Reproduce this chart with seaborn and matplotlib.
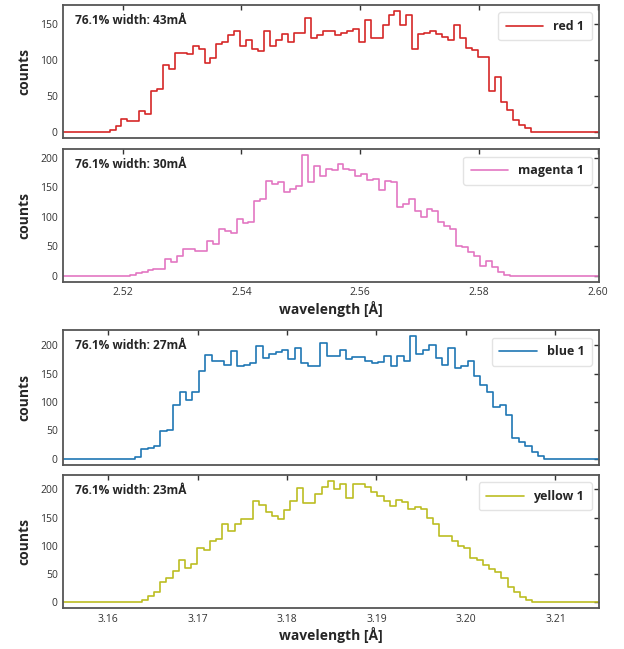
import numpy as np
import pandas as pd
import matplotlib
matplotlib.use("Agg")
import matplotlib.pyplot as plt
from matplotlib.ticker import FormatStrFormatter, MultipleLocator
import seaborn as sns

# counts per bin (bins in Angstrom)
red_counts = [2, 8, 18, 15, 15, 29, 25, 57, 60, 93, 87, 110, 110, 108, 120, 115, 95, 102,
              122, 125, 135, 140, 120, 128, 115, 112, 140, 120, 128, 136, 125, 138, 138, 158,
              130, 135, 140, 140, 135, 137, 140, 143, 125, 155, 130, 131, 148, 162, 168, 148,
              162, 115, 136, 138, 140, 136, 132, 128, 148, 130, 117, 114, 104, 104, 57, 76,
              41, 30, 16, 10, 5]
magenta_counts = [1, 4, 7, 10, 11, 12, 28, 23, 34, 45, 46, 42, 42, 59, 54, 79, 76, 72, 96, 89,
                  91, 127, 130, 161, 156, 159, 142, 147, 152, 205, 159, 187, 170, 181, 180, 189,
                  181, 180, 170, 173, 162, 165, 145, 161, 160, 116, 122, 130, 110, 99, 113, 110,
                  91, 85, 79, 51, 48, 40, 34, 17, 25, 14, 6, 2]
blue_counts = [3, 18, 20, 22, 49, 51, 95, 118, 104, 118, 154, 182, 173, 172, 166, 190, 163, 166,
               169, 198, 178, 184, 188, 192, 175, 195, 169, 163, 163, 204, 181, 181, 192, 175,
               180, 180, 172, 169, 170, 181, 163, 181, 172, 216, 185, 192, 200, 178, 166, 195,
               160, 163, 173, 145, 130, 118, 92, 95, 77, 36, 30, 22, 12, 5]
yellow_counts = [4, 11, 18, 36, 43, 55, 75, 61, 67, 96, 93, 108, 111, 138, 126, 138, 147, 147,
                 179, 173, 159, 153, 147, 164, 179, 203, 176, 176, 192, 205, 215, 200, 210, 185,
                 210, 210, 205, 195, 188, 180, 171, 182, 177, 165, 169, 166, 150, 138, 117, 117,
                 109, 100, 95, 78, 75, 66, 58, 54, 42, 27, 17, 8, 4]

red_start, red_bin = 2.5178, 0.001
magenta_start, magenta_bin = 2.5212, 0.001
blue_start, blue_bin = 3.1630, 0.000715
yellow_start, yellow_bin = 3.16376, 0.000693

labels = ["red 1", "magenta 1", "blue 1", "yellow 1"]
widths = ["43", "30", "27", "23"]
colors = ["#d62728", "#e377c2", "#1f77b4", "#bcbd22"]

xlim_top = (2.51, 2.6003)
xlim_bottom = (3.155, 3.2149)

sns.set_theme(style="white")
plt.rcParams["font.family"] = ["Open Sans", "DejaVu Sans"]


def step_frame(counts, start, width, xlim):
    edges = start + width * np.arange(len(counts) + 1)
    x = np.concatenate([[xlim[0]], edges, [xlim[1]]])
    y = np.concatenate([[0], counts, [0, 0]])
    return pd.DataFrame({"wavelength": x, "counts": y})


fig = plt.figure(figsize=(6.24, 6.49), dpi=100)
positions = [
    [0.1014, 0.7878, 0.859, 0.2045],
    [0.1014, 0.5659, 0.859, 0.2045],
    [0.1014, 0.2835, 0.859, 0.2080],
    [0.1014, 0.0632, 0.859, 0.2050],
]
series = [
    (red_counts, red_start, red_bin, xlim_top),
    (magenta_counts, magenta_start, magenta_bin, xlim_top),
    (blue_counts, blue_start, blue_bin, xlim_bottom),
    (yellow_counts, yellow_start, yellow_bin, xlim_bottom),
]

for i, (pos, (counts, start, width, xlim)) in enumerate(zip(positions, series)):
    ax = fig.add_axes(pos)
    df = step_frame(counts, start, width, xlim)
    sns.lineplot(data=df, x="wavelength", y="counts", ax=ax, color=colors[i],
                 drawstyle="steps-post", estimator=None, sort=False,
                 linewidth=1.2, label=labels[i])
    ax.set_xlim(*xlim)
    ax.set_ylim(-0.05 * max(counts), 1.05 * max(counts))
    ax.xaxis.set_major_locator(MultipleLocator(0.02 if i < 2 else 0.01))
    ax.xaxis.set_major_formatter(FormatStrFormatter("%.2f"))
    ax.yaxis.set_major_locator(MultipleLocator(50))
    ax.tick_params(direction="in", top=True, right=True, length=3.5, width=1,
                   labelsize=7.5, colors="#333333", pad=4)
    for spine in ax.spines.values():
        spine.set_color("#555555")
        spine.set_linewidth(1.3)
    ax.set_ylabel("counts", fontsize=10, fontweight="bold", labelpad=6)
    if i % 2 == 0:
        ax.set_xlabel("")
        ax.tick_params(labelbottom=False)
    else:
        ax.set_xlabel("wavelength [Å]", fontsize=10, fontweight="bold", labelpad=2)
    ax.text(0.022, 0.935, f"76.1% width: {widths[i]}mÅ", transform=ax.transAxes,
            fontsize=8.6, fontweight="bold", va="top", ha="left")
    leg = ax.legend(loc="upper right", handlelength=3.0, borderaxespad=0.6,
                    borderpad=0.6, prop={"weight": "bold", "size": 9})
    leg.get_frame().set_edgecolor("#dddddd")

fig.savefig("out.png", dpi=100)
